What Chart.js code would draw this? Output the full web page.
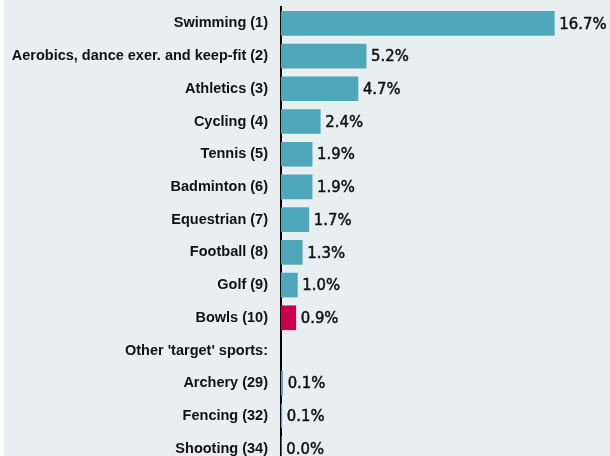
<!DOCTYPE html>
<html lang="en">
  <head>
    <meta charset="UTF-8" />
    <title>Sport participation</title>
    <script src="https://cdn.jsdelivr.net/npm/chart.js@4"></script>
    <style>
      html, body { margin: 0; padding: 0; background: #fff; overflow: hidden; }
      .chart { position: absolute; left: 4px; top: 0; width: 606px; height: 473px; background: #e9eef1; }
    </style>
  </head>
  <body>
    <div class="chart">
      <canvas id="myChart" width="606" height="473"></canvas>
    </div>
    <script>
      const sports = [
        'Swimming (1)', 'Aerobics, dance exer. and keep-fit (2)', 'Athletics (3)',
        'Cycling (4)', 'Tennis (5)', 'Badminton (6)', 'Equestrian (7)',
        'Football (8)', 'Golf (9)', 'Bowls (10)', "Other 'target' sports:",
        'Archery (29)', 'Fencing (32)', 'Shooting (34)'
      ];
      const shares = [16.7, 5.2, 4.7, 2.4, 1.9, 1.9, 1.7, 1.3, 1.0, 0.9, null, 0.1, 0.05, 0.02];
      const shareLabels = ['16.7%', '5.2%', '4.7%', '2.4%', '1.9%', '1.9%', '1.7%', '1.3%', '1.0%', '0.9%', '', '0.1%', '0.1%', '0.0%'];

      const teal = '#4ea8b9';
      const red = '#c8004b';

      // percentage labels to the right of each bar
      const valueLabels = {
        id: 'valueLabels',
        afterDatasetsDraw(chart) {
          const ctx = chart.ctx;
          const meta = chart.getDatasetMeta(0);
          ctx.save();
          ctx.font = '16.5px "DejaVu Sans Condensed", "DejaVu Sans", sans-serif';
          ctx.fillStyle = '#111';
          ctx.strokeStyle = '#111';
          ctx.lineWidth = 0.5;
          ctx.textBaseline = 'middle';
          meta.data.forEach((bar, i) => {
            if (!shareLabels[i]) return;
            ctx.fillText(shareLabels[i], bar.x + 5, bar.y + 1);
            ctx.strokeText(shareLabels[i], bar.x + 5, bar.y + 1);
          });
          ctx.restore();
        }
      };

      const ctx = document.getElementById('myChart').getContext('2d');
      new Chart(ctx, {
        type: 'bar',
        data: {
          labels: sports,
          datasets: [{
            data: shares,
            backgroundColor: sports.map(s => s.startsWith('Bowls') ? red : teal),
            borderWidth: 0,
            barThickness: 24
          }]
        },
        options: {
          indexAxis: 'y',
          responsive: false,
          animation: false,
          layout: { padding: { top: 7, bottom: 8, left: 0, right: 0 } },
          plugins: { legend: { display: false }, tooltip: { enabled: false } },
          scales: {
            x: {
              min: 0,
              max: 20.1,
              display: false
            },
            y: {
              afterFit(scale) {
                scale.width = 277;
                scale.paddingTop = 0;
                scale.paddingBottom = 0;
              },
              grid: { display: false, drawTicks: false },
              border: { display: true, color: '#000', width: 2 },
              ticks: {
                color: '#111',
                padding: 13,
                font: { family: '"Liberation Sans", Arial, sans-serif', size: 14.5, weight: 'bold' }
              }
            }
          }
        },
        plugins: [valueLabels]
      });
    </script>
  </body>
</html>
